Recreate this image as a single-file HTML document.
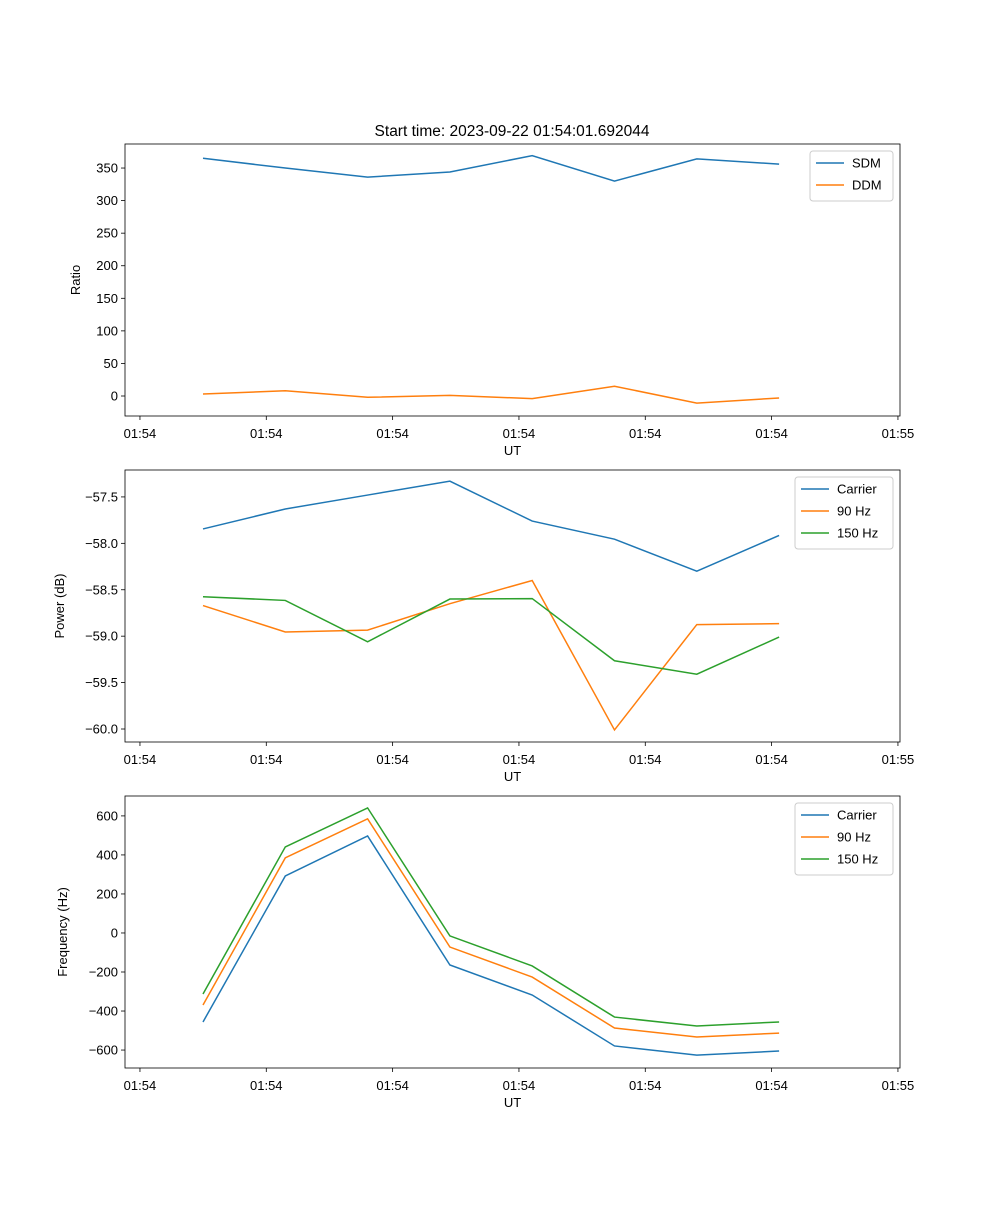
<!DOCTYPE html>
<html><head><meta charset="utf-8"><style>
body{margin:0;background:#fff;}
svg text{font-family:"Liberation Sans","DejaVu Sans",sans-serif;font-size:13px;fill:#000;}
</style></head><body>
<svg id="fig" width="1000" height="1200" xmlns="http://www.w3.org/2000/svg">
<rect width="1000" height="1200" fill="#fff"/>
<text x="512" y="136" text-anchor="middle" style="font-size:15.5px">Start time: 2023-09-22 01:54:01.692044</text>
</svg>
<script>
const xIndex=[0,1,2,3,4,5,6,7];
const xTickVals=[-0.766,0.769,2.304,3.839,5.374,6.909,8.444];
const xTickLabels=["01:54","01:54","01:54","01:54","01:54","01:54","01:55"];
const sdm=[365,350,336,344,369,330,364,356];
const ddm=[3,8,-2,1,-4,15,-11,-3];
const powCarrier=[-57.845,-57.63,-57.48,-57.33,-57.76,-57.955,-58.30,-57.915];
const pow90=[-58.67,-58.955,-58.935,-58.65,-58.40,-60.01,-58.875,-58.865];
const pow150=[-58.575,-58.615,-59.06,-58.60,-58.595,-59.265,-59.41,-59.01];
const freqCarrier=[-456,292,497,-164,-318,-579,-626,-605];
const freq90=[-369,385,585,-72,-226,-487,-533,-513];
const freq150=[-313,441,641,-15,-169,-431,-477,-456];
const ratioTicks=[0,50,100,150,200,250,300,350];
const powTicks=[-60,-59.5,-59,-58.5,-58,-57.5];
const freqTicks=[-600,-400,-200,0,200,400,600];

const NS="http://www.w3.org/2000/svg";
const svg=document.getElementById('fig');
const C={b:"#1f77b4",o:"#ff7f0e",g:"#2ca02c"};
function mk(t,a,p){const e=document.createElementNS(NS,t);for(const k in a)e.setAttribute(k,a[k]);(p||svg).appendChild(e);return e;}
const L=125,R=900;
const xs=v=>203+(v)*82.3;
function panel(key,top,bot,ymin,ymax,ticks,fmt,ylabel,series,legend){
  const ys=v=>bot-(v-ymin)/(ymax-ymin)*(bot-top);
  const g=mk('g',{});
  
  
  xTickVals.forEach((v,i)=>{const x=xs(v);
    mk('line',{x1:x,x2:x,y1:bot,y2:bot+4,stroke:'#000','stroke-width':0.8},g);
    const t=mk('text',{x:x,y:bot+22,'text-anchor':'middle'},g);t.textContent=xTickLabels[i];
    
    });
  ticks.forEach(v=>{const y=ys(v);
    mk('line',{x1:L-4,x2:L,y1:y,y2:y,stroke:'#000','stroke-width':0.8},g);
    const t=mk('text',{x:L-7,y:y+4.5,'text-anchor':'end'},g);t.textContent=fmt(v);
    
    });
  series.forEach(s=>{const p=mk('polyline',{points:s.d.map((v,i)=>xs(xIndex[i])+','+ys(v)).join(' '),fill:'none',stroke:s.c,'stroke-width':1.5},g);
    
    });
  mk('rect',{x:L,y:top,width:R-L,height:bot-top,fill:'none',stroke:'#000','stroke-width':0.8},g);
  const xl=mk('text',{x:(L+R)/2,y:bot+39,'text-anchor':'middle'},g);xl.textContent='UT';
  
  
  const yl=mk('text',{x:0,y:0,'text-anchor':'middle',transform:`translate(${legend.yx},${(top+bot)/2}) rotate(-90)`},g);yl.textContent=ylabel;
  
  
  const lg=mk('g',{},g);
  
  
  mk('rect',{x:legend.x,y:top+7,width:R-7-legend.x,height:series.length*22+6,fill:'#fff',stroke:'#ccc',rx:3},lg);
  series.forEach((s,i)=>{const y=top+19+i*22;
    mk('line',{x1:legend.x+6,x2:legend.x+34,y1:y,y2:y,stroke:s.c,'stroke-width':1.5},lg);
    const t=mk('text',{x:legend.x+42,y:y+4.5},lg);t.textContent=s.n;
    
    });
}
panel('ratio',144,416,-30.7,386.9,ratioTicks,v=>String(v),'Ratio',
 [{n:'SDM',d:sdm,c:C.b},{n:'DDM',d:ddm,c:C.o}],{x:810,yx:80});
panel('power',470,742,-60.14,-57.21,powTicks,v=>v.toFixed(1).replace('-','\u2212'),'Power (dB)',
 [{n:'Carrier',d:powCarrier,c:C.b},{n:'90 Hz',d:pow90,c:C.o},{n:'150 Hz',d:pow150,c:C.g}],{x:795,yx:64});
panel('frequency',796,1068,-692,702,freqTicks,v=>String(v).replace('-','\u2212'),'Frequency (Hz)',
 [{n:'Carrier',d:freqCarrier,c:C.b},{n:'90 Hz',d:freq90,c:C.o},{n:'150 Hz',d:freq150,c:C.g}],{x:795,yx:67});
</script>
</body></html>
